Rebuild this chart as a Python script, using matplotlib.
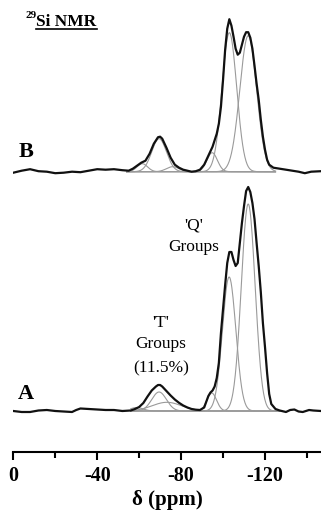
import numpy as np
import matplotlib.pyplot as plt

plt.rcParams['font.family'] = ['Liberation Serif', 'DejaVu Serif']

# Spectrum B (top) - measured trace, ppm and height above its baseline
ppm_B = [0, -4, -8, -12, -16, -20, -24, -28, -32, -36, -40, -44, -48, -52, -55,
         -57, -59, -61, -63, -65, -67, -69, -70, -71, -73, -75, -77, -79, -81,
         -83, -85, -87, -89, -91, -93, -95, -97, -98, -99, -100, -101, -102,
         -103, -104, -105, -106, -107, -108, -109, -110, -111, -112, -113, -114,
         -115, -116, -117, -118, -119, -120, -121, -122, -124, -127, -130, -133,
         -136, -139, -142, -146.7]
int_B = [-1, 1, 2.5, 0.5, 0, -1.5, -1, 0, -0.5, 1, 2.5, 2, 2.5, 1.5, 1,
         3, 6, 9, 11, 18, 28, 34.5, 35, 33, 24, 14, 7, 4, 2,
         1, 0, 0.5, 2, 7, 16, 25, 38, 48, 65, 92, 122, 143,
         152.5, 146, 135, 123, 117, 119, 127, 135, 139.5, 139.5, 134, 123,
         106, 88, 72, 52, 35, 22, 12, 7, 4, 3, 2, 1,
         0, -1.5, 0, 0.5]

# Spectrum A (bottom) - measured trace
ppm_A = [0, -4, -8, -12, -16, -20, -24, -28, -30, -32, -36, -40, -44, -48, -52,
         -56, -58, -60, -62, -64, -66, -68, -69, -70, -71, -73, -75, -77, -79,
         -81, -83, -85, -87, -89, -91, -93, -94, -95, -96, -97, -98, -99, -100,
         -101, -102, -103, -104, -105, -106, -107, -108, -109, -110, -111, -112,
         -113, -114, -115, -116, -117, -118, -119, -120, -121, -122, -123, -125,
         -127, -130, -132, -134, -136, -138, -141, -143, -146.7]
int_A = [0, -1, -1, 0.5, 1, 0, -0.5, -1, 1, 2.5, 2, 1.5, 1, 1, 0,
         0.5, 2, 4, 8, 14.5, 20.5, 24.5, 26, 26, 24.5, 20, 15.5, 11.5, 8.2,
         5.5, 3.5, 2, 1.3, 1, 3.5, 15, 18.5, 20.5, 24.5, 33, 48, 78, 102,
         126, 148, 159, 159, 151, 145, 148, 168, 188, 205, 220, 224,
         219, 208, 192, 168, 145, 119, 88, 64, 38, 17, 7, 2,
         0.5, -1, 1, 1.5, -0.5, -1, 1, 0.5, 0]

# Fitted components (centre ppm, height, width ppm)
fit_B_pos = [-61.5, -69.5, -76, -94.8, -103, -112]
fit_B_hgt = [8, 33, 5, 19, 139, 136]
fit_B_wid = [2.5, 3.5, 3, 2.5, 3.5, 4.0]

fit_A_pos = [-58.8, -69.5, -73.2, -94.6, -102.9, -112]
fit_A_hgt = [3.5, 19, 8.7, 18, 134, 207]
fit_A_wid = [3, 3.5, 7, 2.3, 3.2, 3.3]

# Vertical offsets of the two baselines
off_B = 280.3
off_A = 41

fig = plt.figure(figsize=(3.21, 5.18), dpi=100)
ax = fig.add_axes([13.3 / 321, 66 / 518, 1 - 13.3 / 321, 452 / 518])
ax.set_xlim(0, -146.7)
ax.set_ylim(0, 452)

# Fits (thin grey)
for pos, hgt, wid, off, lo, hi in [
        (fit_B_pos, fit_B_hgt, fit_B_wid, off_B, -54, -125),
        (fit_A_pos, fit_A_hgt, fit_A_wid, off_A, -56, -127)]:
    xx = np.linspace(lo, hi, 400)
    for p, h, w in zip(pos, hgt, wid):
        yy = h * np.exp(-(xx - p) ** 2 / (2 * w ** 2))
        ax.plot(xx, yy + off, color='#9a9a9a', lw=0.8)

# Measured traces
ax.plot(ppm_B, np.array(int_B) + off_B, color='#111111', lw=1.6)
ax.plot(ppm_A, np.array(int_A) + off_A, color='#111111', lw=1.6)

# Axes styling
for s in ['top', 'left', 'right']:
    ax.spines[s].set_visible(False)
ax.spines['bottom'].set_linewidth(1.5)
ax.set_yticks([])
ax.set_xticks([0, -40, -80, -120])
ax.set_xticks([-20, -60, -100, -140], minor=True)
ax.set_xticklabels(['0', '-40', '-80', '-120'], fontweight='bold', fontsize=14.5)
ax.tick_params(axis='x', which='major', direction='out', length=6, width=1.5, pad=4)
ax.tick_params(axis='x', which='minor', direction='out', length=4, width=1.5)
ax.set_xlabel('δ (ppm)', fontweight='bold', fontsize=15, labelpad=3)

# Labels
ax.text(-6.2, 452 - 157, 'B', fontweight='bold', fontsize=16, va='baseline', ha='center')
ax.text(-6.2, 452 - 399, 'A', fontweight='bold', fontsize=16, va='baseline', ha='center')
ax.text(-70.5, 452 - 327, "'T'", fontsize=12.5, ha='center', va='baseline')
ax.text(-70.5, 452 - 348, 'Groups', fontsize=12.5, ha='center', va='baseline')
ax.text(-70.5, 452 - 372, '(11.5%)', fontsize=12.5, ha='center', va='baseline')
ax.text(-86, 452 - 229, "'Q'", fontsize=12.5, ha='center', va='baseline')
ax.text(-86, 452 - 251, 'Groups', fontsize=12.5, ha='center', va='baseline')

# Title with superscript and underline
fig.text(26 / 321, 1 - 18 / 518, '29', fontweight='bold', fontsize=8, va='baseline')
fig.text(36 / 321, 1 - 26 / 518, 'Si NMR', fontweight='bold', fontsize=12.5, va='baseline')
fig.add_artist(plt.Line2D([36 / 321, 97 / 321], [1 - 29 / 518, 1 - 29 / 518],
                          color='black', lw=1.2))

fig.savefig('out.png', dpi=100)
